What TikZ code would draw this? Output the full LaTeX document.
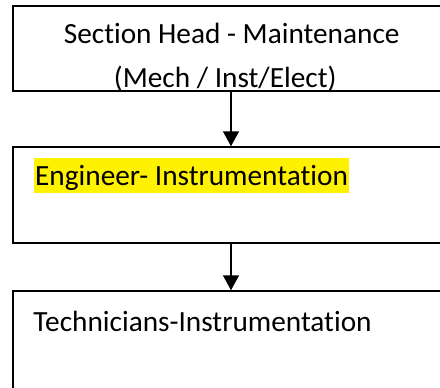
\documentclass[tikz,border=0pt]{standalone}
\usepackage{fontspec}
\setmainfont{Carlito}[Ligatures=NoCommon]
\usepackage{tikz}
\usetikzlibrary{arrows.meta, positioning}

\begin{document}
\begin{tikzpicture}[x=1pt, y=-1pt, font=\fontsize{29.3}{44}\selectfont,
    box/.style={draw, line width=1.5pt, minimum width=436pt, inner sep=0pt},
    link/.style={line width=1.5pt, -{Triangle[width=16pt, length=15pt]}}]
            \useasboundingbox (0,0) rectangle (440,388);
            \clip (0,0) rectangle (440,388);
            % Boxes
            \node[box, minimum height=85pt] (head) at (231, 48.5) {};
            \node[box, minimum height=96pt] (eng) at (231, 195) {};
            \node[box, minimum height=110pt] (tech) at (231, 346) {};
            % Arrows
            \draw[link] (head) -- (eng);
            \draw[link] (eng) -- (tech);
            % Labels (base is the last line here)
            \node[anchor=base, align=center, inner sep=0pt] (headtext) at (231.7, 87.3)
                {Section Head - Maintenance\\(Mech / Inst/Elect)\hspace*{13pt}};
            \node[anchor=base west, fill=yellow, inner xsep=1.5pt, inner ysep=0pt,
                text height=28pt, text depth=7.6pt] (engtext) at (33.5, 185.7)
                {Engineer- Instrumentation};
            \node[anchor=base west, inner sep=0pt] (techtext) at (33.3, 331)
                {Technicians-Instrumentation};
        \end{tikzpicture}
\end{document}
